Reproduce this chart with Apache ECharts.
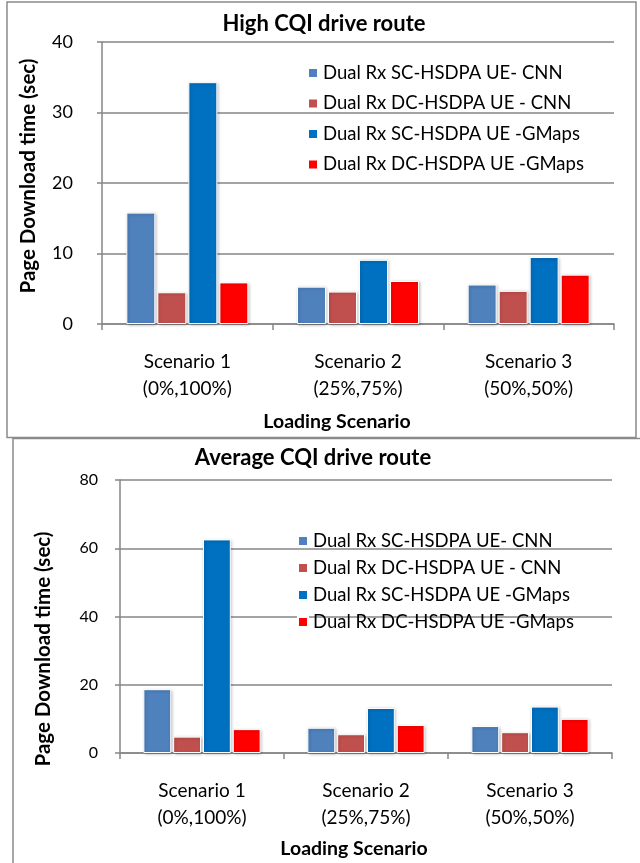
<!DOCTYPE html>
<html>
<head>
<meta charset="utf-8">
<script src="https://cdn.jsdelivr.net/npm/echarts@6/dist/echarts.min.js"></script>
<style>
  html, body { margin: 0; padding: 0; background: #fff; }
  #chart { width: 640px; height: 863px; }
</style>
</head>
<body>
<div id="chart"></div>
<script>
// Loading scenarios along the x axis
const categories = ['Scenario 1\n(0%,100%)', 'Scenario 2\n(25%,75%)', 'Scenario 3\n(50%,50%)'];

// Series labels (legend entries)
const seriesNames = [
  'Dual Rx SC-HSDPA UE- CNN',
  'Dual Rx DC-HSDPA UE - CNN',
  'Dual Rx SC-HSDPA UE -GMaps',
  'Dual Rx DC-HSDPA UE -GMaps'
];
const seriesColors = ['#4F81BD', '#C0504D', '#0070C0', '#FF0000'];

// Page download time (sec) - High CQI drive route
const highScCnn   = [15.8, 5.3, 5.6];
const highDcCnn   = [4.5, 4.6, 4.7];
const highScGmaps = [34.3, 9.1, 9.5];
const highDcGmaps = [5.9, 6.1, 7.0];

// Page download time (sec) - Average CQI drive route
const avgScCnn   = [18.7, 7.4, 7.9];
const avgDcCnn   = [4.8, 5.5, 6.1];
const avgScGmaps = [62.6, 13.2, 13.6];
const avgDcGmaps = [7.0, 8.2, 10.0];

// Value axis ranges
const highAxis = { min: 0, max: 40, interval: 10 };
const avgAxis  = { min: 0, max: 80, interval: 20 };

const FONT = 'Lato, "Open Sans", sans-serif';
const GRID_GRAY = '#868686';

function barSeries(name, data, color, axisIndex) {
  return {
    name: name,
    type: 'bar',
    xAxisIndex: axisIndex,
    yAxisIndex: axisIndex,
    data: data,
    barGap: '7%',
    barCategoryGap: '28.5%',
    itemStyle: {
      color: color,
      borderColor: '#ffffff',
      borderWidth: 1,
      shadowColor: 'rgba(0,0,0,0.25)',
      shadowBlur: 3,
      shadowOffsetX: 1,
      shadowOffsetY: 1
    }
  };
}

function categoryAxis(gridIndex) {
  return {
    type: 'category',
    gridIndex: gridIndex,
    data: categories,
    axisLine: { lineStyle: { color: GRID_GRAY, width: 1.5 } },
    axisTick: { show: true, alignWithLabel: false, length: 6, lineStyle: { color: GRID_GRAY, width: 1.5 } },
    axisLabel: {
      color: '#000', fontFamily: FONT, fontSize: 19, lineHeight: 27, margin: 24
    }
  };
}

function valueAxis(gridIndex, range, fontSize, margin) {
  return {
    type: 'value',
    gridIndex: gridIndex,
    min: range.min,
    max: range.max,
    interval: range.interval,
    axisLine: { show: true, lineStyle: { color: GRID_GRAY, width: 1.5 } },
    axisTick: { show: true, length: 5, lineStyle: { color: GRID_GRAY, width: 1.5 } },
    splitLine: { show: true, lineStyle: { color: GRID_GRAY, width: 1.5 } },
    axisLabel: { color: '#000', fontFamily: FONT, fontSize: fontSize, margin: margin }
  };
}

function legendAt(left, top, gap) {
  return {
    orient: 'vertical',
    left: left,
    top: top,
    padding: 0,
    itemWidth: 10,
    itemHeight: 10,
    itemGap: gap,
    icon: 'rect',
    selectedMode: false,
    data: seriesNames,
    textStyle: { color: '#000', fontFamily: FONT, fontSize: 18.5, lineHeight: 20 }
  };
}

function label(text, x, y, size, rotate) {
  return {
    type: 'text',
    x: x,
    y: y,
    rotation: rotate ? Math.PI / 2 : 0,
    style: {
      text: text,
      fill: '#000',
      font: 'bold ' + size + 'px ' + FONT,
      align: 'center',
      verticalAlign: 'middle'
    }
  };
}

const chart = echarts.init(document.getElementById('chart'), null, { renderer: 'canvas' });

chart.setOption({
  backgroundColor: '#ffffff',
  animation: false,
  grid: [
    { left: 102, top: 42, width: 512, height: 282 },
    { left: 120, top: 480, width: 492, height: 273 }
  ],
  xAxis: [categoryAxis(0), categoryAxis(1)],
  yAxis: [valueAxis(0, highAxis, 18, 29), valueAxis(1, avgAxis, 16, 22)],
  legend: [legendAt(307, 63, 10.5), legendAt(297, 531, 7)],
  series: [
    barSeries(seriesNames[0], highScCnn, seriesColors[0], 0),
    barSeries(seriesNames[1], highDcCnn, seriesColors[1], 0),
    barSeries(seriesNames[2], highScGmaps, seriesColors[2], 0),
    barSeries(seriesNames[3], highDcGmaps, seriesColors[3], 0),
    barSeries(seriesNames[0], avgScCnn, seriesColors[0], 1),
    barSeries(seriesNames[1], avgDcCnn, seriesColors[1], 1),
    barSeries(seriesNames[2], avgScGmaps, seriesColors[2], 1),
    barSeries(seriesNames[3], avgDcGmaps, seriesColors[3], 1)
  ],
  graphic: [
    // frames around the two panels
    {
      type: 'rect', silent: true,
      shape: { x: 7, y: 2, width: 629, height: 435.5 },
      style: { fill: null, stroke: '#8A8A8A', lineWidth: 1.5 }
    },
    {
      type: 'polyline', silent: true,
      shape: { points: [[13, 863], [13, 438.5], [640, 438.5]] },
      style: { fill: null, stroke: '#8A8A8A', lineWidth: 1.5 }
    },
    // chart titles
    label('High CQI drive route', 324, 24, 22, false),
    label('Average CQI drive route', 313, 458, 22, false),
    // axis titles
    label('Page Download time (sec)', 28, 176, 20.5, true),
    label('Page Download time (sec)', 43, 649, 20.5, true),
    label('Loading Scenario', 337, 422, 19.5, false),
    label('Loading Scenario', 354, 849, 19.5, false)
  ]
});
</script>
</body>
</html>
